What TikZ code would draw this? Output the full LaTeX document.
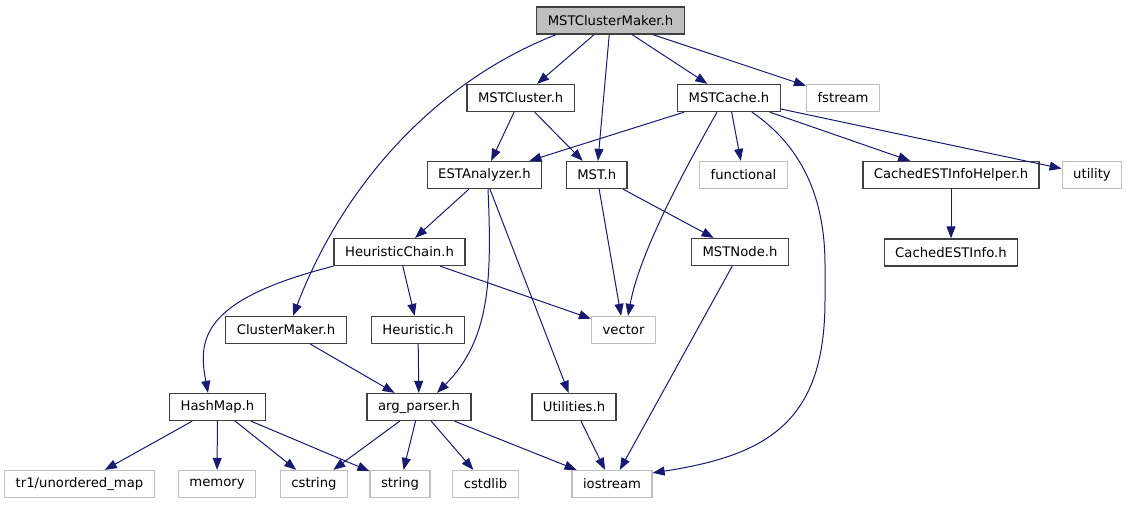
\documentclass[tikz,border=0pt]{standalone}
\usepackage{fontspec}
\setmainfont{DejaVu Sans}
\usetikzlibrary{arrows.meta}
\definecolor{edgeblue}{HTML}{191970}
\definecolor{sysgray}{HTML}{BFBFBF}
\begin{document}
\begin{tikzpicture}[x=1pt,y=-1pt,
	file/.style={draw=black!75,line width=1.3pt,inner xsep=11pt,inner ysep=0pt,minimum height=27pt,font=\fontsize{13.2}{15}\selectfont},
	sysfile/.style={file,draw=sysgray},
	edge/.style={draw=edgeblue,line width=1pt,-{Triangle[length=12pt,width=9pt]}}]
	\useasboundingbox (0,0) rectangle (1127,504);
	\node[file,fill=sysgray,name=root] at (610.5,20.5){MSTClusterMaker.h};
	\node[file,name=mstcluster] at (520.7,98){MSTCluster.h};
	\node[file,name=mstcache] at (729,98){MSTCache.h};
	\node[sysfile,name=fstream] at (843,98){fstream};
	\node[file,name=estanalyzer] at (484.5,175){ESTAnalyzer.h};
	\node[file,name=mst] at (596.7,175){MST.h};
	\node[sysfile,name=functional] at (743.5,175){functional};
	\node[file,name=cachedhelper] at (951,175){CachedESTInfoHelper.h};
	\node[sysfile,name=utility] at (1092,175){utility};
	\node[file,name=heuristicchain] at (399.5,252){HeuristicChain.h};
	\node[file,name=mstnode] at (740,252){MSTNode.h};
	\node[file,name=cachedinfo] at (951,252.5){CachedESTInfo.h};
	\node[file,name=clustermaker] at (286,330){ClusterMaker.h};
	\node[file,name=heuristic] at (418,330){Heuristic.h};
	\node[sysfile,name=vector] at (623.5,330){vector};
	\node[file,name=hashmap] at (217.5,407){HashMap.h};
	\node[file,name=argparser] at (419,407){arg\_parser.h};
	\node[file,name=utilities] at (574,407){Utilities.h};
	\node[sysfile,name=unorderedmap] at (79.5,484){tr1/unordered\_map};
	\node[sysfile,name=memory] at (217,484){memory};
	\node[sysfile,name=cstring] at (314,484){cstring};
	\node[sysfile,name=string] at (400,484){string};
	\node[sysfile,name=cstdlib] at (485.5,484){cstdlib};
	\node[sysfile,name=iostream] at (612,484){iostream};
	% straight includes
	\foreach \a/\b in {root/mstcluster,root/mst,root/mstcache,root/fstream,
		mstcluster/estanalyzer,mstcluster/mst,mstcache/estanalyzer,mstcache/functional,
		mstcache/cachedhelper,mstcache/utility,cachedhelper/cachedinfo,
		estanalyzer/heuristicchain,estanalyzer/utilities,mst/vector,mst/mstnode,
		heuristicchain/heuristic,heuristicchain/vector,mstnode/iostream,
		clustermaker/argparser,heuristic/argparser,
		hashmap/unorderedmap,hashmap/memory,hashmap/cstring,hashmap/string,
		argparser/cstring,argparser/string,argparser/cstdlib,argparser/iostream,
		utilities/iostream}{
		\draw[edge] (\a)--(\b);
	};
	% curved includes
	\draw[edge] ([xshift=-54.5pt]root.south) .. controls (440,80) and (345,180) .. ([xshift=7pt]clustermaker.north);
	\draw[edge] ([xshift=3.5pt]estanalyzer.south) .. controls (492,280) and (490,340) .. ([xshift=18pt]argparser.north);
	\draw[edge] ([xshift=-12pt]mstcache.south) .. controls (690,160) and (640,250) .. ([xshift=4.5pt]vector.north);
	\draw[edge] ([xshift=23pt]mstcache.south) .. controls (800,145) and (825,195) .. (825,265) -- (825,300) .. controls (825,420) and (770,455) .. ([yshift=-3pt]iostream.north east);
	\draw[edge] (heuristicchain.south west) .. controls (200,300) and (198,340) .. ([xshift=-9.5pt]hashmap.north);
\end{tikzpicture}
\end{document}
